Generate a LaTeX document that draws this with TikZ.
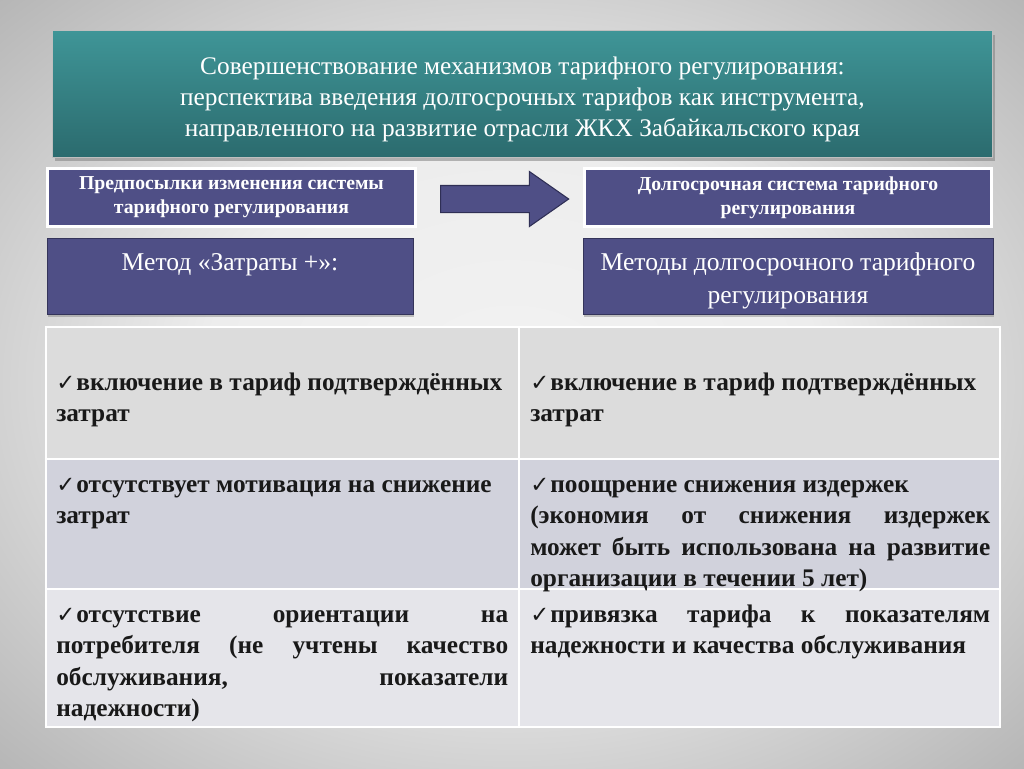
\documentclass[tikz,border=0pt]{standalone}
\usepackage{fontspec}
\setmainfont{Liberation Serif}
\newfontfamily\checkfont{DejaVu Sans}
\usetikzlibrary{shapes.arrows,shadows}
\newcommand{\chk}{{\checkfont\fontsize{17}{17}\selectfont ✓}\kern0.8pt}
\newcommand{\padtop}[1]{\rule{0pt}{#1}}
\pgfdeclareradialshading{slidebg}{\pgfpoint{0bp}{0bp}}{gray(0bp)=(0.95); gray(15bp)=(0.93); gray(50bp)=(0.56); gray(72bp)=(0.45)}

\begin{document}
\begin{tikzpicture}[x=0.75pt,y=-0.75pt,
  titlebox/.style={draw=gray!50,line width=0.5pt,top color=titletop,bottom color=titlebot,text=white,align=center,font=\fontsize{19}{23.25}\selectfont,minimum width=705pt,minimum height=95pt,drop shadow={shadow xshift=2pt,shadow yshift=-3pt,opacity=0.55}},
  headbox/.style={fill=boxpurple,draw=white,line width=2.25pt,text=white,align=center,font=\bfseries\fontsize{14.8}{18}\selectfont,minimum height=43.5pt},
  methbox/.style={fill=boxpurple,draw=boxedge,line width=0.6pt,text=white,align=center,inner ysep=0pt,font=\fontsize{19.2}{24.75}\selectfont,minimum height=57pt,drop shadow={shadow xshift=1pt,shadow yshift=-2pt,opacity=0.45}},
  bigarrow/.style={single arrow,fill=boxpurple,draw=arrowedge,line width=0.8pt,minimum height=96pt,inner xsep=0pt,inner ysep=9.75pt,single arrow head extend=10.5pt,single arrow tip angle=70},
  cell/.style={anchor=north west,inner sep=0pt,align=justify,text=black!90,font=\bfseries\fontsize{19}{23.6}\selectfont},
  leftcell/.style={cell,text width=339pt},
  rightcell/.style={cell,text width=345pt}]
\definecolor{titletop}{HTML}{3F9597}
\definecolor{titlebot}{HTML}{2B6B6E}
\definecolor{boxpurple}{HTML}{4F4F86}
\definecolor{boxedge}{HTML}{34345A}
\definecolor{arrowedge}{HTML}{2F2F55}
\definecolor{rowa}{HTML}{DCDCDC}
\definecolor{rowb}{HTML}{D1D2DC}
\definecolor{rowc}{HTML}{E5E5EA}
\useasboundingbox (0,0) rectangle (1024,768);
\shade[shading=slidebg] (0,0) rectangle (1024,768);
% header
\node[titlebox] (title) at (522.5,94) {\padtop{21pt}Совершенствование механизмов тарифного регулирования:\\ перспектива введения долгосрочных тарифов как инструмента,\\ направленного на развитие отрасли ЖКХ Забайкальского края};
\node[headbox,minimum width=276pt] (prereq) at (231.5,197) {Предпосылки изменения системы\\ тарифного регулирования};
\node[headbox,minimum width=305pt] (longterm) at (788,197.5) {Долгосрочная система тарифного\\ регулирования};
\node[bigarrow] (arrow) at (495,199) {};
\node[methbox,minimum width=274.5pt] (costplus) at (230,276) {\padtop{21pt}Метод «Затраты +»:\\ \rule[-4pt]{0pt}{4pt}};
\node[methbox,minimum width=307.5pt] (ltmethods) at (788,276) {\padtop{21pt}Методы долгосрочного тарифного\\ регулирования};
% table
\foreach \rowclr/\ya/\yb in {rowa/327/459,rowb/459/589,rowc/589/727}
  {\fill[\rowclr] (46,\ya) rectangle (1000,\yb);}
\draw[white,line width=1.5pt] (46,327) rectangle (1000,727) (46,459) -- (1000,459) (46,589) -- (1000,589) (519,327) -- (519,727);
\node[leftcell] (c11) at (56,368) {\strut\chk включение в тариф подтверждённых\\ затрат};
\node[rightcell] (c12) at (530,368) {\strut\chk включение в тариф подтверждённых\\ затрат};
\node[leftcell] (c21) at (56,470) {\strut\chk отсутствует мотивация на снижение\\ затрат};
\node[rightcell] (c22) at (530,470) {\strut\chk поощрение снижения издержек\\ (экономия от снижения издержек\linebreak может быть использована на развитие\linebreak организации в течении 5 лет)};
\node[leftcell] (c31) at (56,600) {\strut\chk отсутствие ориентации на\linebreak потребителя (не учтены качество\linebreak обслуживания, показатели\linebreak надежности)};
\node[rightcell] (c32) at (530,600) {\strut\chk привязка тарифа к показателям\linebreak надежности и качества обслуживания};
\end{tikzpicture}
\end{document}
